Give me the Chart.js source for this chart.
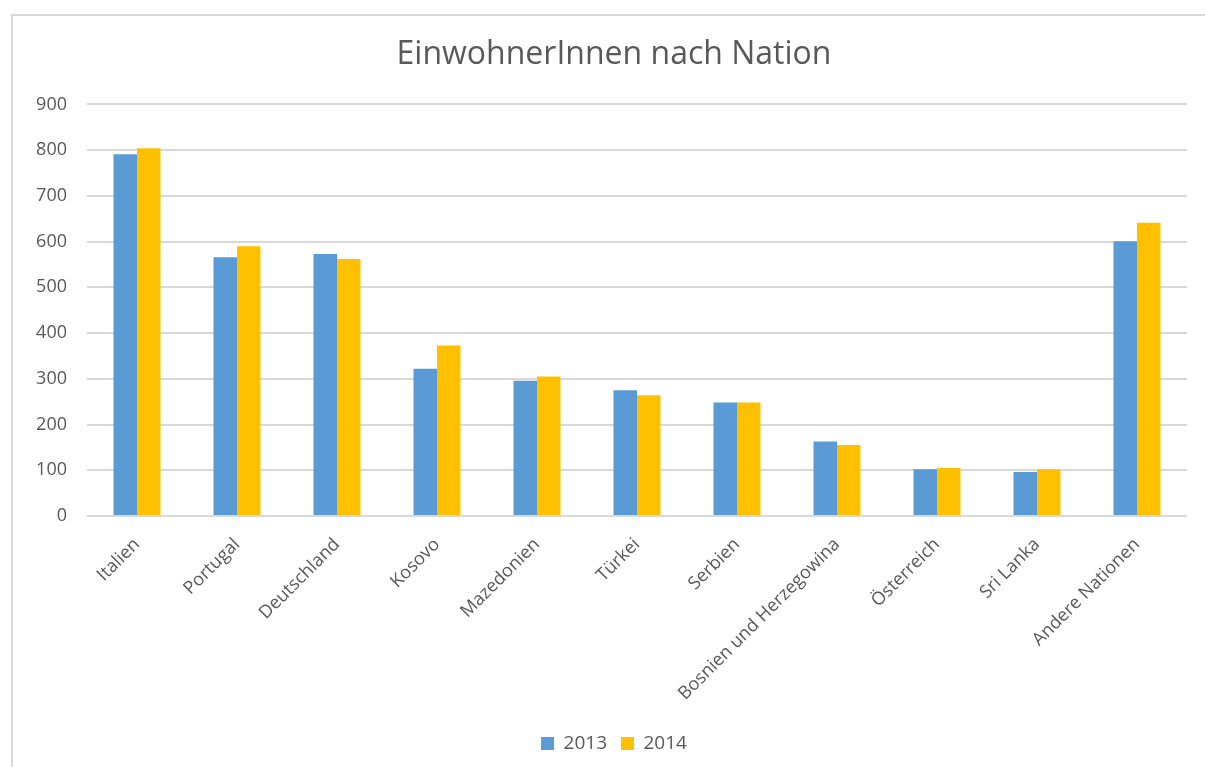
<!DOCTYPE html>
<html>
<head>
<meta charset="utf-8">
<script src="https://cdn.jsdelivr.net/npm/chart.js@4"></script>
<style>
  body { margin: 0; overflow: hidden; background: #fff; }
  #frame { position: absolute; left: 11px; top: 14px; width: 1230px; height: 790px; border: 2px solid #d9d9d9; }
  #wrap { position: absolute; left: 0; top: 0; width: 1228px; height: 767px; }
</style>
</head>
<body>
<div id="frame"></div>
<div id="wrap"><canvas id="nationChart"></canvas></div>
<script>
// chart data
const nations = ['Italien', 'Portugal', 'Deutschland', 'Kosovo', 'Mazedonien', 'Türkei', 'Serbien',
  'Bosnien und Herzegowina', 'Österreich', 'Sri Lanka', 'Andere Nationen'];
const values2013 = [791, 566, 573, 322, 296, 275, 248, 163, 102, 96, 601];
const values2014 = [804, 590, 562, 373, 305, 264, 248, 155, 105, 102, 641];
const yTicks = [0, 100, 200, 300, 400, 500, 600, 700, 800, 900];

const textColor = '#595959';
const fontFamily = '"Open Sans", Lato, sans-serif';

document.addEventListener('DOMContentLoaded', function () {
  const chartElement = document.getElementById('nationChart');
  if (!chartElement) return console.warn('Chart element #nationChart not found.');

  new Chart(chartElement.getContext('2d'), {
    type: 'bar',
    data: {
      labels: nations,
      datasets: [
        { label: '2013', data: values2013, backgroundColor: '#5B9BD5' },
        { label: '2014', data: values2014, backgroundColor: '#FFC000' }
      ]
    },
    options: {
      responsive: true,
      maintainAspectRatio: false,
      animation: false,
      datasets: {
        bar: { categoryPercentage: 0.47, barPercentage: 1.0 }
      },
      layout: { padding: { left: 0, right: 0, top: 0, bottom: 4 } },
      plugins: {
        title: {
          display: true,
          text: 'EinwohnerInnen nach Nation',
          color: textColor,
          font: { family: fontFamily, size: 32, weight: 'normal' },
          padding: { top: 36, bottom: 30 }
        },
        legend: {
          position: 'bottom',
          labels: {
            color: textColor,
            font: { family: fontFamily, size: 19 },
            boxWidth: 13,
            boxHeight: 13,
            padding: 14
          }
        },
        tooltip: { enabled: true }
      },
      scales: {
        x: {
          grid: { display: false },
          border: { display: false },
          ticks: {
            color: textColor,
            font: { family: fontFamily, size: 18 },
            maxRotation: 45,
            minRotation: 45,
            padding: 10
          },
          afterFit: function (scale) { scale.height = 204; }
        },
        y: {
          min: 0,
          max: 900,
          afterBuildTicks: function (scale) {
            scale.ticks = yTicks.map(function (v) { return { value: v }; });
          },
          grid: { color: '#d9d9d9', lineWidth: 2, drawTicks: false },
          border: { display: false },
          ticks: {
            color: textColor,
            font: { family: fontFamily, size: 18 },
            padding: 20
          },
          afterFit: function (scale) { scale.width = 87; }
        },
        // empty right-hand spacer so the title and legend centre over the frame
        spacer: {
          position: 'right',
          display: true,
          grid: { display: false },
          border: { display: false },
          ticks: { display: false },
          afterFit: function (scale) { scale.width = 41; }
        }
      }
    }
  });
});
</script>
</body>
</html>
